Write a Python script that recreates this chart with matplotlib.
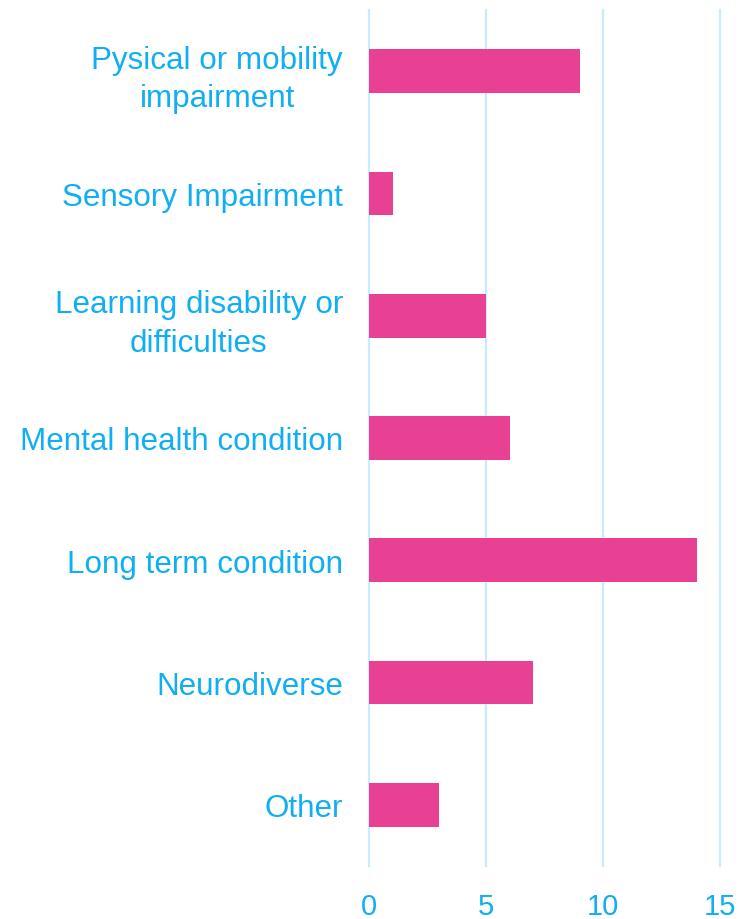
import matplotlib.pyplot as plt
import numpy as np

# Données
categories = ['Pysical or mobility\nimpairment', 'Sensory Impairment',
              'Learning disability or\ndifficulties', 'Mental health condition',
              'Long term condition', 'Neurodiverse', 'Other']
counts = [9, 1, 5, 6, 14, 7, 3]
x_ticks = [0, 5, 10, 15]

bleu = '#10AEF2'
rose = '#E84194'
grille = '#C8ECFC'

plt.rcParams['font.family'] = ['Liberation Sans', 'DejaVu Sans']

fig = plt.figure(figsize=(7.4, 9.2), dpi=100)
ax = fig.add_axes([369.3 / 740, 53 / 920, 350.6 / 740, 856 / 920])

y = np.arange(len(categories))
ax.barh(y, counts, height=0.357, color=rose, zorder=3)

ax.set_ylim(len(categories) - 0.5, -0.5)
ax.set_xlim(0, 15)
ax.set_xticks(x_ticks)
ax.set_yticks(y)
ax.set_yticklabels(categories, multialignment='center', linespacing=1.38)

ax.grid(axis='x', color=grille, linewidth=1.6, zorder=0)
ax.grid(axis='y', visible=False)
for ligne in ax.get_xgridlines():
    ligne.set_clip_on(False)
for s in ax.spines.values():
    s.set_visible(False)

ax.tick_params(axis='y', length=0, pad=19, labelsize=22.6, labelcolor=bleu)
ax.tick_params(axis='x', length=0, pad=18.5, labelsize=21, labelcolor=bleu)

fig.savefig('out.png', dpi=100)
